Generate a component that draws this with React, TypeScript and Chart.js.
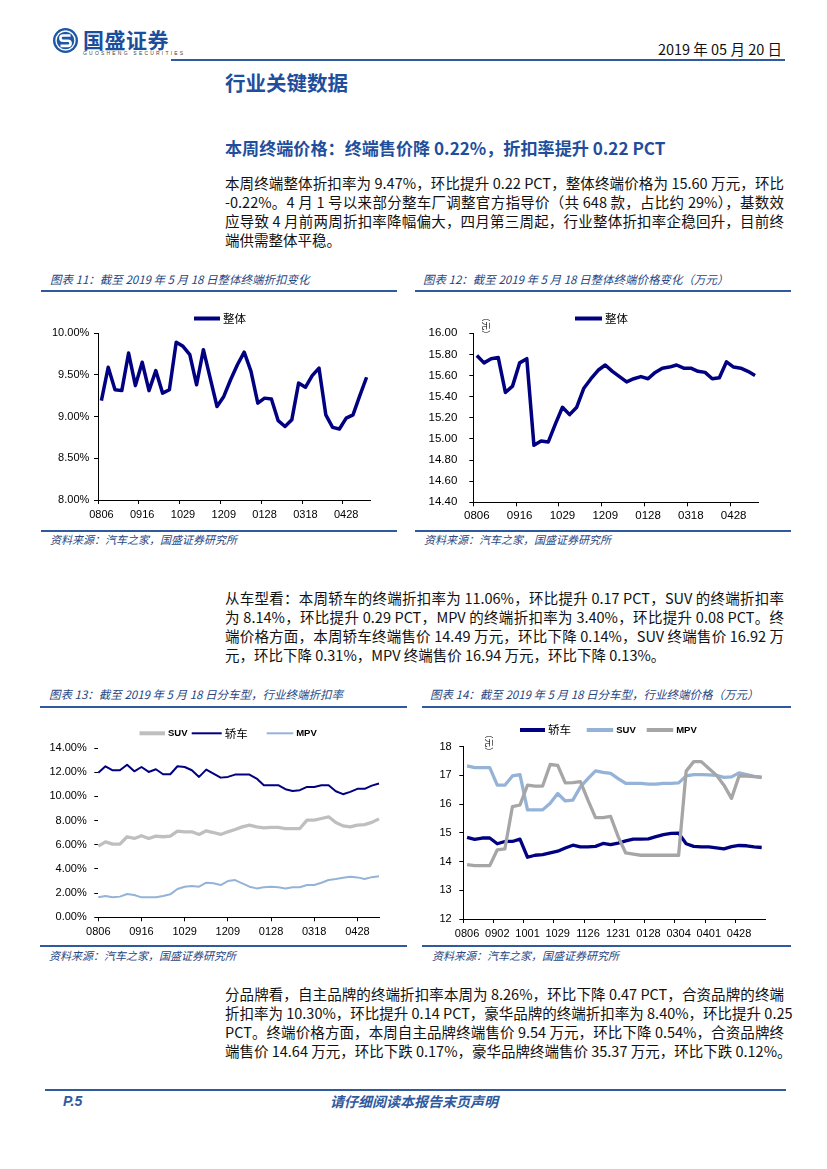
import React, { useEffect, useRef } from 'react';
import { Chart, registerables } from 'chart.js';

Chart.register(...registerables);

// ---------------- data ----------------
const weekLabels = [
  '0806', '0813', '0820', '0827', '0902', '0909', '0916', '0923', '1001', '1008',
  '1015', '1022', '1029', '1105', '1112', '1119', '1126', '1203', '1209', '1216',
  '1231', '0107', '0114', '0121', '0128', '0204', '0218', '0225', '0304', '0311',
  '0318', '0325', '0401', '0408', '0415', '0422', '0428', '0505', '0512', '0518',
];

// 图表11 整体终端折扣率 (%)
const overallDiscount = [
  9.19, 9.59, 9.32, 9.31, 9.76, 9.37, 9.65, 9.31, 9.55, 9.28,
  9.32, 9.89, 9.84, 9.74, 9.38, 9.80, 9.46, 9.12, 9.24, 9.44,
  9.62, 9.77, 9.54, 9.16, 9.22, 9.21, 8.95, 8.88, 8.96, 9.40,
  9.35, 9.49, 9.58, 9.02, 8.87, 8.85, 8.98, 9.02, 9.25, 9.47,
];

// 图表12 整体终端价格 (万元)
const overallPrice = [
  15.79, 15.72, 15.76, 15.77, 15.44, 15.50, 15.72, 15.76, 14.94, 14.98,
  14.97, 15.14, 15.30, 15.23, 15.30, 15.48, 15.57, 15.65, 15.70, 15.64,
  15.59, 15.54, 15.57, 15.59, 15.57, 15.63, 15.67, 15.68, 15.70, 15.67,
  15.67, 15.64, 15.63, 15.57, 15.58, 15.73, 15.68, 15.67, 15.64, 15.60,
];

// 图表13 分车型终端折扣率 (%)
const suvDiscount = [
  5.89, 6.24, 6.05, 6.05, 6.66, 6.52, 6.74, 6.52, 6.71, 6.66,
  6.71, 7.12, 7.07, 7.07, 6.85, 7.15, 7.01, 6.85, 7.07, 7.26,
  7.48, 7.62, 7.48, 7.40, 7.43, 7.43, 7.34, 7.34, 7.34, 8.03,
  8.03, 8.17, 8.31, 7.84, 7.56, 7.48, 7.62, 7.67, 7.85, 8.14,
];
const sedanDiscount = [
  11.96, 12.49, 12.16, 12.16, 12.62, 12.07, 12.43, 12.02, 12.24, 11.83,
  11.83, 12.49, 12.43, 12.16, 11.61, 12.21, 11.88, 11.55, 11.61, 11.80,
  11.80, 11.80, 11.47, 10.92, 10.92, 10.92, 10.59, 10.45, 10.51, 10.78,
  10.78, 10.92, 10.92, 10.42, 10.18, 10.37, 10.62, 10.62, 10.89, 11.06,
];
const mpvDiscount = [
  1.65, 1.76, 1.65, 1.71, 1.93, 1.84, 1.65, 1.65, 1.65, 1.76,
  1.90, 2.34, 2.53, 2.59, 2.53, 2.86, 2.81, 2.67, 3.00, 3.08,
  2.81, 2.53, 2.39, 2.48, 2.53, 2.48, 2.39, 2.48, 2.48, 2.67,
  2.67, 2.86, 3.08, 3.16, 3.27, 3.36, 3.30, 3.16, 3.32, 3.40,
];

// 图表14 分车型终端价格 (万元)
const sedanPrice = [
  14.84, 14.77, 14.82, 14.82, 14.62, 14.70, 14.70, 14.78, 14.15, 14.22,
  14.24, 14.30, 14.36, 14.47, 14.57, 14.51, 14.51, 14.53, 14.63, 14.59,
  14.64, 14.72, 14.78, 14.78, 14.79, 14.87, 14.94, 14.98, 14.99, 14.62,
  14.53, 14.51, 14.51, 14.48, 14.44, 14.52, 14.56, 14.55, 14.51, 14.49,
];
const suvPrice = [
  17.33, 17.27, 17.27, 17.27, 16.66, 16.66, 16.98, 17.03, 15.80, 15.80,
  15.80, 16.03, 16.37, 16.11, 16.14, 16.60, 16.89, 17.16, 17.11, 17.07,
  16.89, 16.72, 16.72, 16.72, 16.70, 16.70, 16.72, 16.72, 16.74, 16.98,
  17.03, 17.03, 17.02, 17.00, 16.93, 16.95, 17.09, 17.03, 16.97, 16.92,
];
const mpvPrice = [
  13.89, 13.86, 13.86, 13.86, 14.41, 14.44, 15.91, 15.97, 16.66, 16.63,
  16.63, 17.38, 17.35, 16.74, 16.75, 16.78, 16.14, 15.53, 15.53, 15.57,
  14.87, 14.30, 14.26, 14.22, 14.22, 14.22, 14.22, 14.22, 14.22, 17.15,
  17.48, 17.48, 17.24, 17.01, 16.66, 16.20, 16.98, 16.98, 16.96, 16.94,
];

// ---------------- text ----------------
const para1 = [
  '本周终端整体折扣率为 9.47%，环比提升 0.22 PCT，整体终端价格为 15.60 万元，环比',
  '-0.22%。4 月 1 号以来部分整车厂调整官方指导价（共 648 款，占比约 29%），基数效',
  '应导致 4 月前两周折扣率降幅偏大，四月第三周起，行业整体折扣率企稳回升，目前终',
  '端供需整体平稳。',
];
const para2 = [
  '从车型看：本周轿车的终端折扣率为 11.06%，环比提升 0.17 PCT，SUV 的终端折扣率',
  '为 8.14%，环比提升 0.29 PCT，MPV 的终端折扣率为 3.40%，环比提升 0.08 PCT。终',
  '端价格方面，本周轿车终端售价 14.49 万元，环比下降 0.14%，SUV 终端售价 16.92 万',
  '元，环比下降 0.31%，MPV 终端售价 16.94 万元，环比下降 0.13%。',
];
const para3 = [
  '分品牌看，自主品牌的终端折扣率本周为 8.26%，环比下降 0.47 PCT，合资品牌的终端',
  '折扣率为 10.30%，环比提升 0.14 PCT，豪华品牌的终端折扣率为 8.40%，环比提升 0.25',
  'PCT。终端价格方面，本周自主品牌终端售价 9.54 万元，环比下降 0.54%，合资品牌终',
  '端售价 14.64 万元，环比下跌 0.17%，豪华品牌终端售价 35.37 万元，环比下跌 0.12%。',
];

// ---------------- styles ----------------
const NAVY = '#000080';
const SUV_GRAY = '#BFBFBF';
const MPV_LIGHT = '#95B3D7';
const MPV_GRAY = '#A6A6A6';
const BLUE = '#1F4E9C';
const RULE = '#2F5A9E';
const CAPTION = '#27467F';
const CJK = '"Noto Sans CJK SC", sans-serif';
const LATIN = '"Liberation Sans", Arial, sans-serif';

const tickFont = (size: number) => ({ family: LATIN, size });

function lineDs(label: string, data: number[], color: string, width: number, order: number) {
  return {
    label, data, order,
    borderColor: color, backgroundColor: color, borderWidth: width,
    pointRadius: 0, pointHoverRadius: 0, tension: 0, fill: false,
    borderJoinStyle: 'round', borderCapStyle: 'butt',
  };
}

function xAxis(every: number, offset: boolean, height: number, pad: number, fontSize: number) {
  return {
    type: 'category', offset,
    grid: {
      offset, drawOnChartArea: false, drawTicks: true, tickLength: 4, lineWidth: 1,
      color: (c: any) => (c.index % every === 0 ? '#000' : 'rgba(0,0,0,0)'),
    },
    border: { display: true, color: '#000', width: 1 },
    ticks: {
      autoSkip: false, maxRotation: 0, minRotation: 0, padding: pad, color: '#000',
      font: tickFont(fontSize),
      callback: (_v: any, i: number) => (i % every === 0 ? weekLabels[i] : ''),
    },
    afterFit: (s: any) => { s.height = height; s.paddingLeft = 0; s.paddingRight = 0; },
  };
}

function yAxis(min: number, max: number, step: number, fmt: (v: number) => string,
  width: number, pad: number, showBorder: boolean, fontSize: number) {
  return {
    min, max,
    ticks: { stepSize: step, padding: pad, color: '#000', font: tickFont(fontSize), callback: (v: any) => fmt(Number(v)) },
    grid: { drawOnChartArea: false, drawTicks: true, tickLength: 4, color: '#000', lineWidth: 1 },
    border: { display: showBorder, color: '#000', width: 1 },
    afterFit: (s: any) => { s.width = width; s.paddingTop = 0; s.paddingBottom = 0; },
  };
}

type LegendItem = { ds: number; x: number; y: number; len: number; lw: number };

function overlayPlugin(items: LegendItem[], unit?: { x: number; y: number }) {
  return {
    id: 'overlay',
    afterDraw(chart: any) {
      const ctx = chart.ctx;
      ctx.save();
      items.forEach((it) => {
        const ds = chart.data.datasets[it.ds];
        ctx.strokeStyle = ds.borderColor;
        ctx.lineWidth = it.lw;
        ctx.lineCap = 'butt';
        ctx.beginPath();
        ctx.moveTo(it.x, it.y);
        ctx.lineTo(it.x + it.len, it.y);
        ctx.stroke();
        const isCjk = /[\u4e00-\u9fff]/.test(ds.label);
        ctx.font = isCjk ? `11.5px ${CJK}` : `bold 9.5px ${LATIN}`;
        ctx.fillStyle = '#000';
        ctx.textAlign = 'left';
        ctx.textBaseline = 'middle';
        ctx.fillText(ds.label, it.x + it.len + 3, it.y + (isCjk ? 0 : 0.5));
      });
      if (unit) {
        ctx.translate(unit.x, unit.y);
        ctx.rotate(Math.PI / 2);
        ctx.font = `8.5px ${CJK}`;
        ctx.fillStyle = '#000';
        ctx.textAlign = 'left';
        ctx.textBaseline = 'middle';
        ctx.fillText('（元）', 0, 0);
      }
      ctx.restore();
    },
  };
}

function baseOptions(padding: any) {
  return {
    responsive: false,
    animation: false,
    events: [],
    layout: { autoPadding: false, padding },
    plugins: { legend: { display: false }, tooltip: { enabled: false }, title: { display: false } },
  };
}

const pct = (v: number) => v.toFixed(2) + '%';

const chart11 = () => ({
  type: 'line',
  data: { labels: weekLabels, datasets: [lineDs('整体', overallDiscount, NAVY, 3.5, 0)] },
  options: {
    ...baseOptions({ top: 37, right: 27, left: 0, bottom: 0 }),
    scales: {
      x: xAxis(6, true, 30, 4, 11),
      y: yAxis(8, 10, 0.5, pct, 58, 4.7, true, 11),
    },
  },
  plugins: [overlayPlugin([{ ds: 0, x: 154, y: 22.5, len: 26, lw: 4 }])],
});

const chart12 = () => ({
  type: 'line',
  data: { labels: weekLabels, datasets: [lineDs('整体', overallPrice, NAVY, 3.5, 0)] },
  options: {
    ...baseOptions({ top: 37.3, right: 31.4, left: 0, bottom: 0 }),
    scales: {
      x: xAxis(6, true, 27.7, 3, 11.5),
      y: yAxis(14.4, 16, 0.2, (v) => v.toFixed(2), 63.3, 12, true, 11.5),
    },
  },
  plugins: [overlayPlugin([{ ds: 0, x: 165, y: 22.5, len: 27, lw: 4 }], { x: 76, y: 17 })],
});

const chart13 = () => ({
  type: 'line',
  data: {
    labels: weekLabels,
    datasets: [
      lineDs('SUV', suvDiscount, SUV_GRAY, 3.3, 2),
      lineDs('轿车', sedanDiscount, NAVY, 2, 1),
      lineDs('MPV', mpvDiscount, MPV_LIGHT, 2, 0),
    ],
  },
  options: {
    ...baseOptions({ top: 40, right: 26, left: 0, bottom: 0 }),
    scales: {
      x: xAxis(6, false, 26.7, 4, 11),
      y: yAxis(0, 14, 2, pct, 58.3, 7.6, false, 11),
    },
  },
  plugins: [overlayPlugin([
    { ds: 0, x: 99.5, y: 25.3, len: 25.5, lw: 4 },
    { ds: 1, x: 151.7, y: 25.3, len: 30, lw: 2 },
    { ds: 2, x: 226.7, y: 25.3, len: 26.5, lw: 2 },
  ])],
});

const chart14 = () => ({
  type: 'line',
  data: {
    labels: weekLabels,
    datasets: [
      lineDs('轿车', sedanPrice, NAVY, 3.3, 2),
      lineDs('SUV', suvPrice, MPV_LIGHT, 3.3, 1),
      lineDs('MPV', mpvPrice, MPV_GRAY, 3.3, 0),
    ],
  },
  options: {
    ...baseOptions({ top: 38.7, right: 24.5, left: 0, bottom: 0 }),
    scales: {
      x: xAxis(4, true, 25, 4, 11),
      y: yAxis(12, 18, 1, (v) => String(Math.round(v)), 43.3, 7.6, true, 11),
    },
  },
  plugins: [overlayPlugin([
    { ds: 0, x: 100, y: 22, len: 25, lw: 4 },
    { ds: 1, x: 166.7, y: 22, len: 26.5, lw: 4 },
    { ds: 2, x: 226.7, y: 22, len: 26.5, lw: 4 },
  ], { x: 69, y: 22 })],
});

// ---------------- components ----------------
function ChartBox({ left, top, width, height, build }: any) {
  const ref = useRef<HTMLCanvasElement>(null);
  useEffect(() => {
    const chart = new Chart(ref.current as HTMLCanvasElement, build());
    return () => chart.destroy();
  }, []);
  return (
    <div style={{ position: 'absolute', left, top, width, height }}>
      <canvas ref={ref} width={width} height={height} style={{ display: 'block', width, height }} />
    </div>
  );
}

function Line({ x1, x2, y, h, color }: any) {
  return <div style={{ position: 'absolute', left: x1, top: y - h / 2, width: x2 - x1, height: h, background: color }} />;
}

function Txt({ x, cy, size, lh, children, style, right }: any) {
  const s: any = {
    position: 'absolute', top: cy - lh / 2, height: lh, lineHeight: lh + 'px',
    fontSize: size, whiteSpace: 'nowrap', fontFamily: CJK, ...style,
  };
  if (right !== undefined) s.right = right; else s.left = x;
  return <div style={s}>{children}</div>;
}

function Para({ lines, firstY, step, justifyAll }: any) {
  return (
    <>
      {lines.map((t: string, i: number) => {
        const last = i === lines.length - 1 && !justifyAll;
        return (
          <div key={i} style={{
            position: 'absolute', left: 225, top: firstY + i * step - 9.5, width: 559, height: 19,
            lineHeight: '19px', fontSize: 14.5, fontFamily: CJK, color: '#111',
            whiteSpace: 'nowrap', textAlign: last ? 'left' : 'justify', textAlignLast: last ? 'left' : 'justify',
          } as any}>{t}</div>
        );
      })}
    </>
  );
}

function Logo() {
  return (
    <svg style={{ position: 'absolute', left: 52, top: 27 }} width={27} height={27} viewBox="0 0 27 27">
      <circle cx={13.5} cy={13.5} r={12.5} fill="#1D57A6" />
      <circle cx={13.5} cy={13.5} r={9.5} fill="none" stroke="#fff" strokeWidth={1.4} />
      <path d="M18.5 8.5 L11 8.5 A2.6 2.6 0 0 0 11 13.7 L16 13.7 A2.6 2.6 0 0 1 16 18.9 L8.5 18.9"
        fill="none" stroke="#fff" strokeWidth={2.6} strokeLinejoin="round" />
    </svg>
  );
}

export default function App() {
  const capStyle = { color: CAPTION, fontStyle: 'italic' };
  return (
    <div style={{ position: 'absolute', left: 0, top: 0, width: 827, height: 1169, background: '#fff', overflow: 'hidden', fontFamily: CJK }}>
      {/* header */}
      <Logo />
      <Txt x={83} cy={39} size={21} lh={26} style={{ color: '#1D4E9B', fontWeight: 700, letterSpacing: 0.5 }}>国盛证券</Txt>
      <Txt x={83} cy={53} size={5} lh={6} style={{ color: '#444', letterSpacing: 2.2, fontFamily: LATIN }}>GUOSHENG SECURITIES</Txt>
      <Txt right={45} cy={49} size={14.5} lh={20} style={{ color: '#111' }}>2019 年 05 月 20 日</Txt>
      <Line x1={171} x2={785} y={60} h={2} color={RULE} />

      <Txt x={225} cy={82} size={20.5} lh={26} style={{ color: BLUE, fontWeight: 700 }}>行业关键数据</Txt>
      <Txt x={225} cy={148} size={17.1} lh={24} style={{ color: BLUE, fontWeight: 700 }}>本周终端价格：终端售价降 0.22%，折扣率提升 0.22 PCT</Txt>

      <Para lines={para1} firstY={182} step={19} />

      {/* figure 11 / 12 */}
      <Txt x={50} cy={279} size={11.5} lh={16} style={capStyle}>图表 11：截至 2019 年 5 月 18 日整体终端折扣变化</Txt>
      <Txt x={423} cy={279} size={11.5} lh={16} style={capStyle}>图表 12：截至 2019 年 5 月 18 日整体终端价格变化（万元）</Txt>
      <Line x1={41} x2={397} y={291} h={2} color={RULE} />
      <Line x1={415} x2={791} y={291} h={2} color={RULE} />

      <ChartBox left={40} top={296} width={357} height={234} build={chart11} />
      <ChartBox left={410} top={296} width={380} height={234} build={chart12} />

      <Line x1={41} x2={397} y={531} h={1.5} color={RULE} />
      <Line x1={415} x2={791} y={531} h={1.5} color={RULE} />
      <Txt x={50} cy={539} size={11} lh={15} style={capStyle}>资料来源：汽车之家，国盛证券研究所</Txt>
      <Txt x={424} cy={539} size={11} lh={15} style={capStyle}>资料来源：汽车之家，国盛证券研究所</Txt>

      <Para lines={para2} firstY={597} step={19.3} />

      {/* figure 13 / 14 */}
      <Txt x={49} cy={694} size={11.5} lh={16} style={capStyle}>图表 13：截至 2019 年 5 月 18 日分车型，行业终端折扣率</Txt>
      <Txt x={430} cy={694} size={11.5} lh={16} style={capStyle}>图表 14：截至 2019 年 5 月 18 日分车型，行业终端价格（万元）</Txt>
      <Line x1={40} x2={407} y={706.5} h={2} color={RULE} />
      <Line x1={421.5} x2={791} y={706.5} h={2} color={RULE} />

      <ChartBox left={40} top={708} width={365} height={236} build={chart13} />
      <ChartBox left={420} top={708} width={370} height={236} build={chart14} />

      <Line x1={40} x2={407} y={946} h={1.5} color={RULE} />
      <Line x1={421.5} x2={791} y={946} h={1.5} color={RULE} />
      <Txt x={49} cy={955} size={11} lh={15} style={capStyle}>资料来源：汽车之家，国盛证券研究所</Txt>
      <Txt x={432} cy={955} size={11} lh={15} style={capStyle}>资料来源：汽车之家，国盛证券研究所</Txt>

      <Para lines={para3} firstY={993} step={19} justifyAll />

      {/* footer */}
      <Line x1={45} x2={786} y={1090} h={2.5} color={RULE} />
      <Txt x={63} cy={1101} size={14} lh={18} style={{ color: RULE, fontWeight: 700, fontStyle: 'italic', fontFamily: LATIN }}>P.5</Txt>
      <Txt x={330} cy={1101} size={14} lh={18} style={{ color: RULE, fontWeight: 700, fontStyle: 'italic' }}>请仔细阅读本报告末页声明</Txt>
    </div>
  );
}
